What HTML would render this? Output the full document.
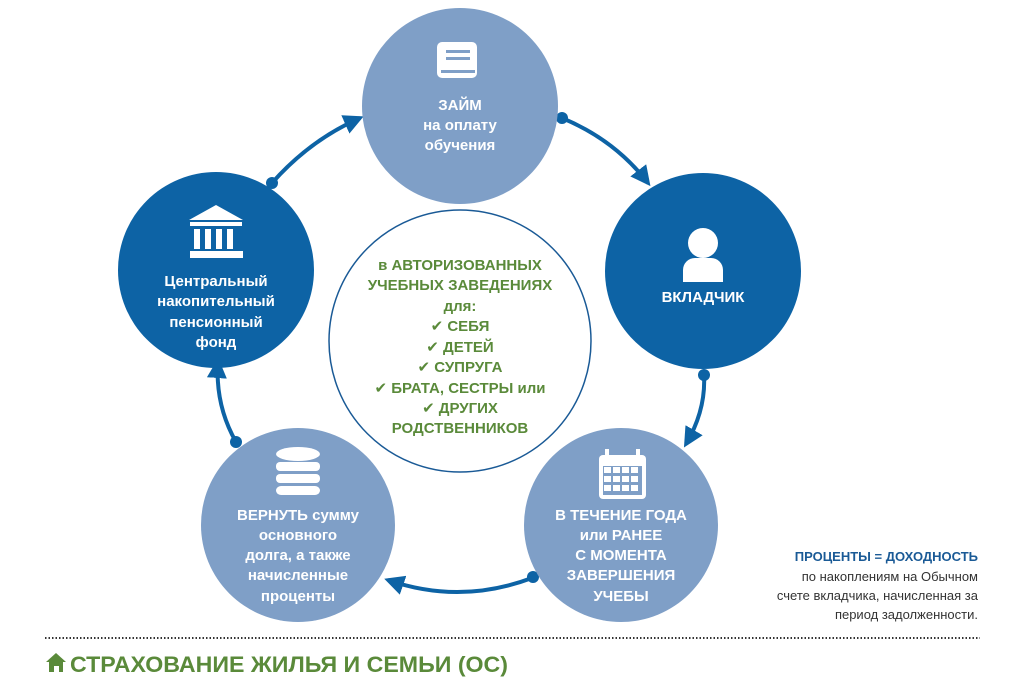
<!DOCTYPE html>
<html><head><meta charset="utf-8"><style>
html,body{margin:0;padding:0;background:#fff;}
svg{display:block;font-family:"Liberation Sans","DejaVu Sans",sans-serif;}
.w{fill:#fff;font-weight:bold;font-size:15px;text-anchor:middle;}
.g{fill:#5a8a3a;font-weight:bold;font-size:15px;text-anchor:middle;}
</style></head><body>
<svg width="1024" height="677" viewBox="0 0 1024 677" xmlns="http://www.w3.org/2000/svg">
<defs>
<marker id="ar" viewBox="0 0 10 10" refX="8" refY="5" markerWidth="5" markerHeight="5" orient="auto"><path d="M0,0 L10,5 L0,10 z" fill="#0d63a5"/></marker>
</defs>
<g stroke="#0d63a5" stroke-width="4" fill="none" marker-end="url(#ar)">
<path d="M562,118 Q615,140 648,183"/>
<path d="M704,375 Q706,410 686,444"/>
<path d="M532,578 Q460,605 388,580"/>
<path d="M236,442 Q215,405 218,362"/>
<path d="M272,183 Q310,140 360,118"/>
</g>
<g fill="#0d63a5">
<circle cx="562" cy="118" r="6"/><circle cx="704" cy="375" r="6"/><circle cx="533" cy="577" r="6"/><circle cx="236" cy="442" r="6"/><circle cx="272" cy="183" r="6"/>
</g>
<circle cx="460" cy="106" r="98" fill="#7f9fc7"/>
<circle cx="703" cy="271" r="98" fill="#0d63a5"/>
<circle cx="621" cy="525" r="97" fill="#7f9fc7"/>
<circle cx="298" cy="525" r="97" fill="#7f9fc7"/>
<circle cx="216" cy="270" r="98" fill="#0d63a5"/>
<circle cx="460" cy="341" r="131" fill="#fff" stroke="#1a5a96" stroke-width="1.5"/>
<g fill="#fff">
<rect x="437" y="42" width="40" height="36" rx="5"/>
</g>
<g fill="#7f9fc7"><rect x="446" y="50" width="24" height="3"/><rect x="446" y="57" width="24" height="3"/><rect x="441" y="70" width="34" height="3"/></g>
<g fill="#fff">
<circle cx="703" cy="243" r="15"/>
<path d="M683,282 v-12 a12,12 0 0 1 12,-12 h16 a12,12 0 0 1 12,12 v12 z"/>
<path d="M216,205 L243,220 L189,220 z"/><rect x="190" y="222" width="52" height="4"/>
<rect x="194" y="229" width="6" height="20"/><rect x="205" y="229" width="6" height="20"/><rect x="216" y="229" width="6" height="20"/><rect x="227" y="229" width="6" height="20"/>
<rect x="190" y="251" width="53" height="7"/>
<ellipse cx="298" cy="454" rx="22" ry="7"/><rect x="276" y="462" width="44" height="9" rx="4"/><rect x="276" y="474" width="44" height="9" rx="4"/><rect x="276" y="486" width="44" height="9" rx="5"/>
<rect x="599" y="455" width="47" height="44" rx="4"/><rect x="605" y="449" width="4" height="10"/><rect x="636" y="449" width="4" height="10"/>
</g>
<g fill="#7f9fc7"><rect x="603" y="466" width="39" height="29"/></g>
<g fill="#fff">
<rect x="604" y="467" width="7" height="6"/><rect x="613" y="467" width="7" height="6"/><rect x="622" y="467" width="7" height="6"/><rect x="631" y="467" width="7" height="6"/>
<rect x="604" y="476" width="7" height="6"/><rect x="613" y="476" width="7" height="6"/><rect x="622" y="476" width="7" height="6"/><rect x="631" y="476" width="7" height="6"/>
<rect x="604" y="485" width="7" height="6"/><rect x="613" y="485" width="7" height="6"/><rect x="622" y="485" width="7" height="6"/><rect x="631" y="485" width="7" height="6"/>
</g>
<text class="w" x="460" y="110">ЗАЙМ</text>
<text class="w" x="460" y="130">на оплату</text>
<text class="w" x="460" y="150">обучения</text>
<text class="w" x="703" y="302">ВКЛАДЧИК</text>
<text class="w" x="216" y="286">Центральный</text>
<text class="w" x="216" y="306">накопительный</text>
<text class="w" x="216" y="327">пенсионный</text>
<text class="w" x="216" y="347">фонд</text>
<text class="w" x="298" y="520">ВЕРНУТЬ сумму</text>
<text class="w" x="298" y="540">основного</text>
<text class="w" x="298" y="560">долга, а также</text>
<text class="w" x="298" y="580">начисленные</text>
<text class="w" x="298" y="601">проценты</text>
<text class="w" x="621" y="520">В ТЕЧЕНИЕ ГОДА</text>
<text class="w" x="621" y="540">или РАНЕЕ</text>
<text class="w" x="621" y="560">С МОМЕНТА</text>
<text class="w" x="621" y="580">ЗАВЕРШЕНИЯ</text>
<text class="w" x="621" y="601">УЧЕБЫ</text>
<text class="g" x="460" y="270">в АВТОРИЗОВАННЫХ</text>
<text class="g" x="460" y="290">УЧЕБНЫХ ЗАВЕДЕНИЯХ</text>
<text class="g" x="460" y="311">для:</text>
<text class="g" x="460" y="331">✔ СЕБЯ</text>
<text class="g" x="460" y="352">✔ ДЕТЕЙ</text>
<text class="g" x="460" y="372">✔ СУПРУГА</text>
<text class="g" x="460" y="393">✔ БРАТА, СЕСТРЫ или</text>
<text class="g" x="460" y="413">✔ ДРУГИХ</text>
<text class="g" x="460" y="433">РОДСТВЕННИКОВ</text>
<text x="978" y="561" text-anchor="end" font-size="13" font-weight="bold" fill="#1a5a96">ПРОЦЕНТЫ = ДОХОДНОСТЬ</text>
<text x="978" y="581" text-anchor="end" font-size="13" fill="#333">по накоплениям на Обычном</text>
<text x="978" y="600" text-anchor="end" font-size="13" fill="#333">счете вкладчика, начисленная за</text>
<text x="978" y="619" text-anchor="end" font-size="13" fill="#333">период задолженности.</text>
<line x1="45" y1="638" x2="980" y2="638" stroke="#333" stroke-width="2" stroke-dasharray="1.5,2"/>
<path d="M46,662 L56,653 L66,662 L63,662 L63,672 L59,672 L59,666 L54,666 L54,672 L49,672 L49,662 z" fill="#5a8a3a"/>
<text x="70" y="672" font-size="22" font-weight="bold" fill="#5a8a3a" textLength="438" lengthAdjust="spacingAndGlyphs">СТРАХОВАНИЕ ЖИЛЬЯ И СЕМЬИ (ОС)</text>
</svg>
</body></html>
